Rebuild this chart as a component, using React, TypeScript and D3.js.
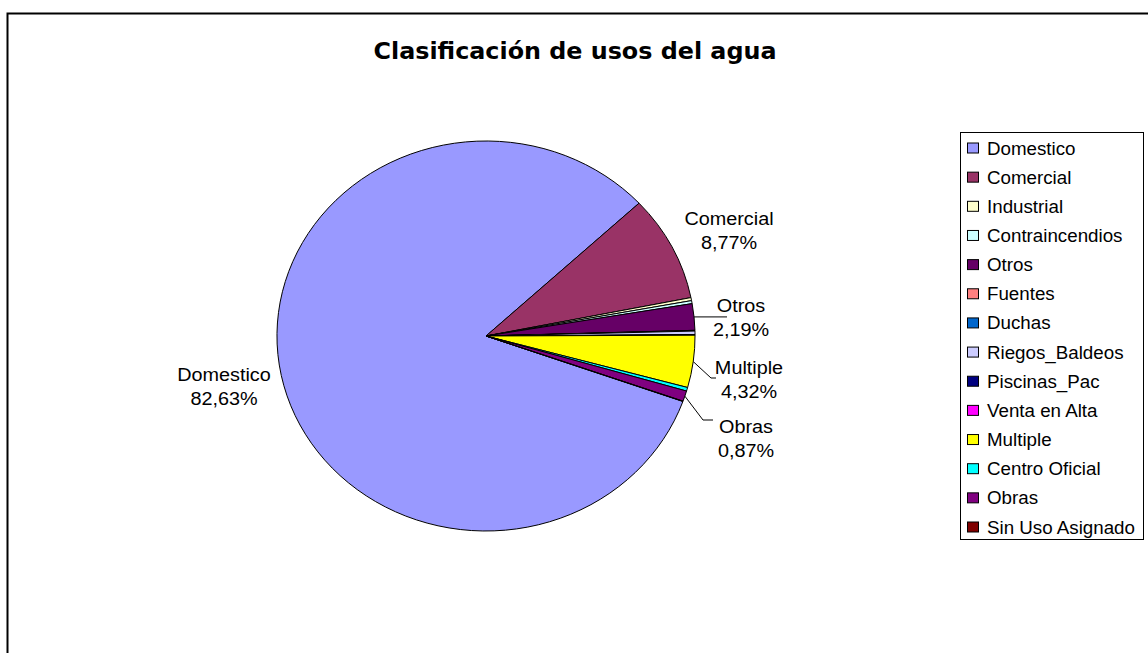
import React from "react";
import * as d3 from "d3";

const categories = [
  "Domestico", "Comercial", "Industrial", "Contraincendios", "Otros", "Fuentes", "Duchas",
  "Riegos_Baldeos", "Piscinas_Pac", "Venta en Alta", "Multiple", "Centro Oficial", "Obras", "Sin Uso Asignado",
];
const values = [82.63, 8.77, 0.25, 0.25, 2.19, 0.03, 0.03, 0.3, 0.02, 0.02, 4.32, 0.3, 0.87, 0.02];
const colors = [
  "#9999FF", "#993366", "#FFFFCC", "#CCFFFF", "#660066", "#FF8080", "#0066CC",
  "#CCCCFF", "#000080", "#FF00FF", "#FFFF00", "#00FFFF", "#800080", "#800000",
];
const title = "Clasificación de usos del agua";

// label layout: category, text center x, first baseline, leader elbow & end (null = no leader)
const labelLayout = [
  { name: "Domestico", cx: 224, y: 381, leader: null },
  { name: "Comercial", cx: 729, y: 225, leader: null },
  { name: "Otros", cx: 741, y: 312, leader: { elbow: null, endX: 727 } },
  { name: "Multiple", cx: 749, y: 374, leader: { elbow: [711, 378], endX: 716 } },
  { name: "Obras", cx: 746, y: 433, leader: { elbow: [703, 420], endX: 713 } },
];

const W = 1148, H = 653;
const CX = 486, CY = 336, R = 195, SX = 1.072;
const START = (109.6 * Math.PI) / 180;
const FONT = "'Liberation Sans', Arial, sans-serif";

export default function App() {
  const total = d3.sum(values);
  const data = categories.map((c, i) => ({ name: c, value: values[i], color: colors[i] }));
  const pie = d3.pie<any>().sort(null).value((d) => d.value).startAngle(START).endAngle(START + 2 * Math.PI);
  const arcs = pie(data);
  const arc = d3.arc<any>().innerRadius(0).outerRadius(R);
  const fmt = (v: number) => ((v / total) * 100).toFixed(2).replace(".", ",") + "%";
  const edgePoint = (a: any) => {
    const m = (a.startAngle + a.endAngle) / 2;
    return [CX + SX * R * Math.sin(m), CY - R * Math.cos(m)];
  };

  const legendY = d3.scaleLinear().domain([0, categories.length - 1]).range([148, 527]);

  return (
    <svg width={W} height={H} style={{ position: "absolute", left: 0, top: 0, background: "#fff" }}>
      <rect x={7.5} y={13.5} width={1160} height={660} fill="#fff" stroke="#000" strokeWidth={2} />
      <text
        transform={`translate(575,59)`}
        textAnchor="middle"
        fontFamily="'DejaVu Sans Condensed', 'DejaVu Sans', Verdana, sans-serif"
        fontWeight="bold"
        fontSize={23.5}
        textLength={403}
        lengthAdjust="spacingAndGlyphs"
        fill="#000"
      >
        {title}
      </text>
      <g transform={`translate(${CX},${CY}) scale(${SX},1)`}>
        {arcs.map((a, i) => (
          <path
            key={i}
            d={arc(a) as string}
            fill={a.data.color}
            stroke="#000"
            strokeWidth={1}
            vectorEffect="non-scaling-stroke"
            strokeLinejoin="round"
          />
        ))}
      </g>
      {labelLayout.map((l, i) => {
        const a = arcs.find((d) => d.data.name === l.name)!;
        let leader = null;
        if (l.leader) {
          const [px, py] = edgePoint(a);
          const pts: number[][] = [[px, py]];
          if (l.leader.elbow) {
            pts.push(l.leader.elbow);
            pts.push([l.leader.endX, l.leader.elbow[1]]);
          } else {
            pts.push([l.leader.endX, py]);
          }
          leader = <path d={d3.line()(pts as any) as string} fill="none" stroke="#000" strokeWidth={1} />;
        }
        return (
          <g key={i}>
            {leader}
            <text transform={`translate(${l.cx},${l.y}) scale(${SX},1)`} textAnchor="middle" fontFamily={FONT} fontSize={18.5} fill="#000">
              {l.name}
            </text>
            <text transform={`translate(${l.cx},${l.y + 24}) scale(${SX},1)`} textAnchor="middle" fontFamily={FONT} fontSize={18.5} fill="#000">
              {fmt(a.data.value)}
            </text>
          </g>
        );
      })}
      <rect x={960.5} y={132.5} width={183} height={407} fill="#fff" stroke="#000" strokeWidth={1} />
      {categories.map((c, i) => {
        const y = legendY(i);
        return (
          <g key={c}>
            <rect x={967.5} y={y - 5} width={11} height={10} fill={colors[i]} stroke="#000" strokeWidth={1} />
            <text transform={`translate(987,${y + 6.5}) scale(${SX},1)`} fontFamily={FONT} fontSize={17.5} fill="#000">
              {c}
            </text>
          </g>
        );
      })}
    </svg>
  );
}
